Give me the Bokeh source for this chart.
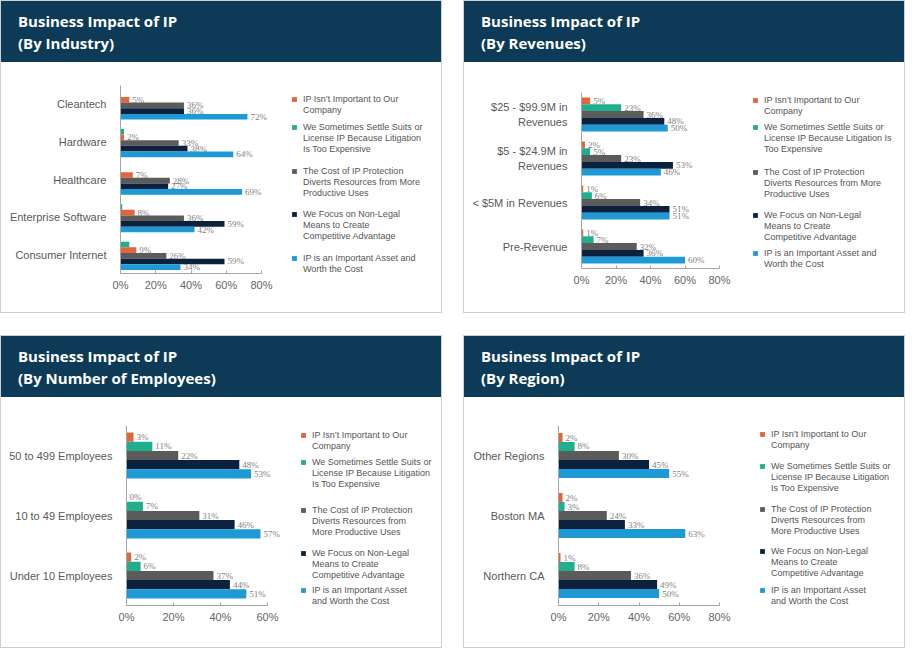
from bokeh.plotting import figure
from bokeh.models import (ColumnDataSource, FactorRange, Range1d, LabelSet, Legend,
                          LegendItem, FixedTicker, PrintfTickFormatter, Div)
from bokeh.transform import dodge
from bokeh.layouts import row, column
from bokeh.embed import file_html
from bokeh.resources import INLINE

# ---------------- data ----------------
series_keys = ["not_important", "settle", "cost", "non_legal", "important"]

industry_cats = ["Cleantech", "Hardware", "Healthcare", "Enterprise Software", "Consumer Internet"]
industry_not_important = [5, 2, 7, 8, 9]
industry_settle = [0, 2, 0, 1, 5]
industry_cost = [36, 33, 28, 36, 26]
industry_non_legal = [36, 38, 27, 59, 59]
industry_important = [72, 64, 69, 42, 34]

revenue_cats = ["$25 - $99.9M in\nRevenues", "$5 - $24.9M in\nRevenues", "< $5M in Revenues", "Pre-Revenue"]
revenue_not_important = [5, 2, 1, 1]
revenue_settle = [23, 5, 6, 7]
revenue_cost = [36, 23, 34, 32]
revenue_non_legal = [48, 53, 51, 36]
revenue_important = [50, 46, 51, 60]

employee_cats = ["50 to 499 Employees", "10 to 49 Employees", "Under 10 Employees"]
employee_not_important = [3, 0, 2]
employee_settle = [11, 7, 6]
employee_cost = [22, 31, 37]
employee_non_legal = [48, 46, 44]
employee_important = [53, 57, 51]

region_cats = ["Other Regions", "Boston MA", "Northern CA"]
region_not_important = [2, 2, 1]
region_settle = [8, 3, 8]
region_cost = [30, 24, 36]
region_non_legal = [45, 33, 49]
region_important = [55, 63, 50]

ticks_80 = [0, 20, 40, 60, 80]
ticks_60 = [0, 20, 40, 60]

legend_industry = ["IP Isn\u2019t Important to Our\nCompany",
                   "We Sometimes Settle Suits or\nLicense IP Because Litigation\nIs Too Expensive",
                   "The Cost of IP Protection\nDiverts Resources from More\nProductive Uses",
                   "We Focus on Non-Legal\nMeans to Create\nCompetitive Advantage",
                   "IP is an Important Asset and\nWorth the Cost"]
legend_revenue = ["IP Isn\u2019t Important to Our\nCompany",
                  "We Sometimes Settle Suits or\nLicense IP Because Litigation Is\nToo Expensive",
                  "The Cost of IP Protection\nDiverts Resources from More\nProductive Uses",
                  "We Focus on Non-Legal\nMeans to Create\nCompetitive Advantage",
                  "IP is an Important Asset and\nWorth the Cost"]
legend_small = ["IP Isn\u2019t Important to Our\nCompany",
                "We Sometimes Settle Suits or\nLicense IP Because Litigation\nIs Too Expensive",
                "The Cost of IP Protection\nDiverts Resources from\nMore Productive Uses",
                "We Focus on Non-Legal\nMeans to Create\nCompetitive Advantage",
                "IP is an Important Asset\nand Worth the Cost"]

# ---------------- style ----------------
COLORS = {"not_important": "#e4643b", "settle": "#1fae8e", "cost": "#5b5b5b",
          "non_legal": "#0c213d", "important": "#1d9ad6"}
HEADER = "#0c3a57"
BORDER = "#cfcfcf"
FONT = "Liberation Sans"
W = 440
HEADER_H = 61
CHART_H = 250
PITCH = 11


def make_panel(subtitle, cats, values, bar_order, labeled, legend_labels, xmax, ticks,
               left, top, frame_w, frame_h, h, shift, legend_x, entry_tops):
    header = Div(
        text=("<div style=\"padding:9px 0 0 17px; line-height:22px; font-family:'Open Sans';"
              "font-weight:bold; font-size:15px; color:white; white-space:nowrap;\">"
              f"Business Impact of IP<br>{subtitle}</div>"),
        width=W, height=HEADER_H, styles={"background-color": HEADER, "margin": "0"})

    data = {"cat": cats}
    for k in series_keys:
        data[k] = values[k]
        data[k + "_lbl"] = [f"{v}%" for v in values[k]]
    src = ColumnDataSource(data)

    # frame runs to the right edge (axis bounded to 0..xmax) so labels / legend are not clipped
    x_end = xmax * (W - left) / frame_w
    p = figure(width=W, height=CHART_H, y_range=FactorRange(*reversed(cats)),
               x_range=Range1d(0, x_end), toolbar_location=None, output_backend="svg",
               min_border_left=left, min_border_right=0,
               min_border_top=top, min_border_bottom=CHART_H - top - frame_h,
               outline_line_color=None)
    p.grid.visible = False

    renderers = {}
    for i, k in enumerate(bar_order):
        off = (2 - i) * h + shift
        r = p.hbar(y=dodge("cat", off, range=p.y_range), left=0, right=k, height=h,
                   source=src, fill_color=COLORS[k], line_color=None)
        renderers[k] = r
        if k in labeled:
            p.add_layout(LabelSet(x=k, y=dodge("cat", off, range=p.y_range), text=k + "_lbl",
                                  source=src, x_offset=3, text_baseline="middle",
                                  text_align="left", text_font_size="9px",
                                  text_color="#7f7f7f", text_font=FONT))

    xa = p.xaxis[0]
    xa.bounds = (0, xmax)
    xa.ticker = FixedTicker(ticks=ticks)
    xa.formatter = PrintfTickFormatter(format="%d%%")
    xa.axis_line_color = "#a6a6a6"
    xa.major_tick_line_color = "#a6a6a6"
    xa.major_tick_in = 3
    xa.major_tick_out = 0
    xa.minor_tick_line_color = None
    xa.major_label_text_font_size = "11px"
    xa.major_label_text_color = "#666666"
    xa.major_label_text_font = FONT
    xa.major_label_standoff = 5

    ya = p.yaxis[0]
    ya.axis_line_color = "#a6a6a6"
    ya.major_tick_line_color = None
    ya.minor_tick_line_color = None
    ya.major_label_standoff = 8
    ya.major_label_text_font_size = "11px"
    ya.major_label_text_color = "#595959"
    ya.major_label_text_font = FONT
    ya.major_label_text_line_height = 1.25

    # legend: one small legend per entry, one row per text line,
    # swatch on the first line (continuation lines use an invisible renderer)
    blank_src = ColumnDataSource(dict(y=[], right=[]))
    blank = p.hbar(y="y", right="right", height=0.1, source=blank_src,
                   fill_alpha=0, line_alpha=0)
    for k, lab, top_off in zip(series_keys, legend_labels, entry_tops):
        lines = lab.split("\n")
        items = [LegendItem(label=line, renderers=[renderers[k] if j == 0 else blank])
                 for j, line in enumerate(lines)]
        vy = frame_h - (top_off - PITCH / 2) - len(lines) * PITCH
        legend = Legend(items=items, location=(legend_x - left, vy),
                        glyph_width=6, glyph_height=6, label_standoff=6, spacing=0,
                        padding=0, margin=0, label_height=PITCH,
                        border_line_color=None, background_fill_alpha=0,
                        label_text_font_size="9px", label_text_color="#555555",
                        label_text_font=FONT)
        p.add_layout(legend)

    return column(header, p, spacing=0, styles={"border": f"1px solid {BORDER}"})


def vals(a, b, c, d, e):
    return dict(zip(series_keys, [a, b, c, d, e]))


p1 = make_panel("(By Industry)", industry_cats,
                vals(industry_not_important, industry_settle, industry_cost,
                     industry_non_legal, industry_important),
                ["settle", "not_important", "cost", "non_legal", "important"],
                ["not_important", "cost", "non_legal", "important"],
                legend_industry, 80, ticks_80,
                left=119, top=23, frame_w=141, frame_h=188, h=0.15, shift=-0.03,
                legend_x=290, entry_tops=[14, 42, 86, 129, 173])
p2 = make_panel("(By Revenues)", revenue_cats,
                vals(revenue_not_important, revenue_settle, revenue_cost,
                     revenue_non_legal, revenue_important),
                series_keys, series_keys, legend_revenue, 80, ticks_80,
                left=117, top=30, frame_w=138, frame_h=176, h=0.155, shift=0.0,
                legend_x=288, entry_tops=[8, 35, 80, 123, 161])
p3 = make_panel("(By Number of Employees)", employee_cats,
                vals(employee_not_important, employee_settle, employee_cost,
                     employee_non_legal, employee_important),
                series_keys, series_keys, legend_small, 60, ticks_60,
                left=125, top=28, frame_w=141, frame_h=180, h=0.153, shift=0.0,
                legend_x=299, entry_tops=[10, 37, 85, 128, 165])
p4 = make_panel("(By Region)", region_cats,
                vals(region_not_important, region_settle, region_cost,
                     region_non_legal, region_important),
                series_keys, series_keys, legend_small, 80, ticks_80,
                left=94, top=28, frame_w=161, frame_h=180, h=0.15, shift=0.0,
                legend_x=295, entry_tops=[9, 41, 84, 126, 165])

layout = column(row(p1, p2, spacing=21), row(p3, p4, spacing=21), spacing=22)

open("out.html", "w").write(file_html(layout, INLINE))
